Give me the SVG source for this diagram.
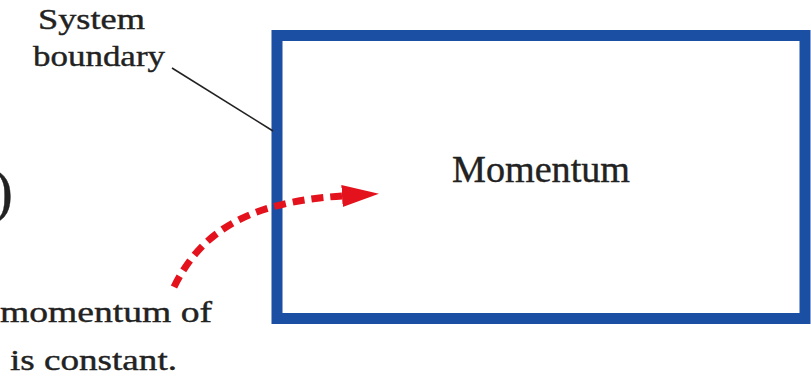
<svg xmlns="http://www.w3.org/2000/svg" width="811" height="381" viewBox="0 0 811 381">
<style>
.t{font-family:"Liberation Serif","Times New Roman",serif;fill:#222;stroke:#222;stroke-width:0.4;}
.lbl{font-size:30px;}
</style>
<defs>
<marker id="ah" markerWidth="37" markerHeight="22" refX="0" refY="11" orient="auto" markerUnits="userSpaceOnUse" viewBox="0 0 37 22">
<polygon points="0,0 37,11 0,22" fill="#e3121c"/>
</marker>
</defs>
<rect width="811" height="381" fill="#ffffff"/>
<g id="system">
<rect x="277" y="35.5" width="528" height="283" fill="none" stroke="#1a4fa3" stroke-width="11"/>
<text class="t" x="452" y="182" font-size="38" textLength="178" lengthAdjust="spacingAndGlyphs">Momentum</text>
</g>
<g id="label-boundary">
<text class="t lbl" x="38" y="29" textLength="107" lengthAdjust="spacingAndGlyphs">System</text>
<text class="t lbl" x="33" y="66" textLength="132" lengthAdjust="spacingAndGlyphs">boundary</text>
</g>
<g id="label-constant">
<text class="t lbl" x="0" y="322" textLength="212" lengthAdjust="spacingAndGlyphs">momentum of</text>
<text class="t lbl" x="10" y="370" textLength="167" lengthAdjust="spacingAndGlyphs">is constant.</text>
<text class="t" x="-7" y="211" font-size="60">)</text>
</g>
<g id="connectors">
<line x1="172" y1="68" x2="273" y2="131" stroke="#222" stroke-width="1.6"/>
<path d="M174,287 C200,234 245,202 342,196" fill="none" stroke="#e3121c" stroke-width="7" stroke-dasharray="12,7" marker-end="url(#ah)"/>
</g>
</svg>
